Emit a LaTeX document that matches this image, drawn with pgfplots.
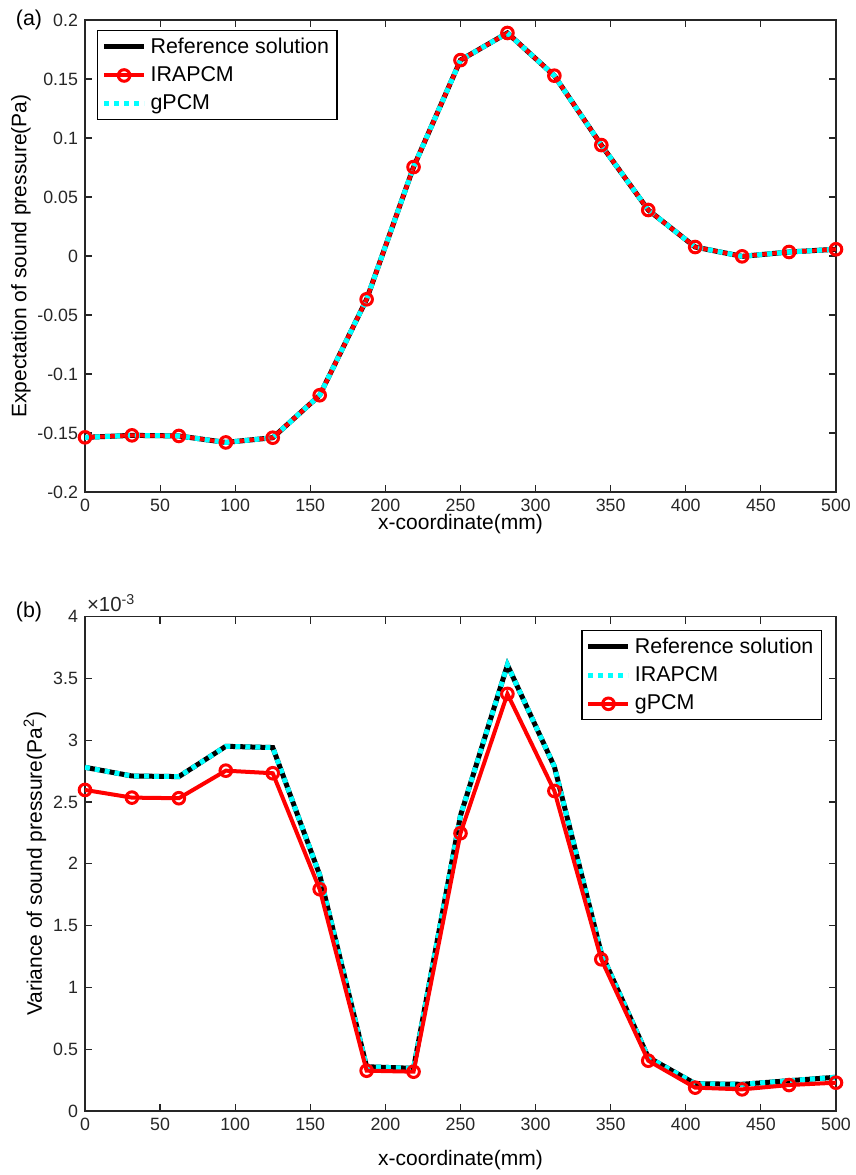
\documentclass[border=0pt]{standalone}
\usepackage{fontspec}
\setmainfont{Liberation Sans}
\usepackage{pgfplots}
\pgfplotsset{compat=1.18}
\definecolor{axgray}{RGB}{38,38,38}
\definecolor{mred}{RGB}{255,0,0}
\definecolor{mcyan}{RGB}{0,255,255}

\pgfplotstableread{
x y
0 -0.1537
31.25 -0.1520
62.5 -0.1525
93.75 -0.1580
125 -0.1540
156.25 -0.1180
187.5 -0.0367
218.75 0.0754
250 0.1660
281.25 0.1890
312.5 0.1528
343.75 0.0940
375 0.0390
406.25 0.0076
437.5 -0.0003
468.75 0.0034
500 0.0057
}\expdata

\pgfplotstableread{
x y
0 2.78
31.25 2.71
62.5 2.705
93.75 2.95
125 2.94
156.25 1.91
187.5 0.358
218.75 0.345
250 2.39
281.25 3.608
312.5 2.786
343.75 1.276
375 0.434
406.25 0.221
437.5 0.216
468.75 0.245
500 0.273
}\varref

\pgfplotstableread{
x y
0 2.597
31.25 2.535
62.5 2.53
93.75 2.753
125 2.732
156.25 1.794
187.5 0.326
218.75 0.318
250 2.247
281.25 3.374
312.5 2.589
343.75 1.227
375 0.407
406.25 0.189
437.5 0.175
468.75 0.21
500 0.229
}\vargpcm

\pgfplotsset{
  mstyle/.style={
    scale only axis, width=375.5pt,
    xmin=0, xmax=500, xtick={0,50,100,150,200,250,300,350,400,450,500},
    tick align=inside, major tick length=3.5pt,
    axis line style={axgray, line width=0.6pt},
    every tick/.style={axgray, line width=0.6pt},
    tick label style={font=\fontsize{8.9}{10}\selectfont, text=axgray},
    label style={font=\fontsize{10.5}{12}\selectfont, text=black},
    /pgf/number format/assume math mode=true,
    xlabel={x-coordinate(mm)},
    legend cell align=left,
    legend style={font=\fontsize{10.7}{12}\selectfont, draw=black, line width=0.6pt,
      inner xsep=2pt, inner ysep=1.5pt, row sep=1.2pt},
    legend image code/.code={\draw[mark repeat=2,mark phase=2,#1] plot coordinates {(0pt,0pt) (10pt,0pt) (20pt,0pt)};},
  },
  refline/.style={black, line width=2.5pt, no markers},
  redline/.style={mred, line width=2pt, mark=o, mark size=2.9pt, mark options={line width=1.5pt, solid}},
  cyanline/.style={mcyan, line width=2.5pt, dash pattern=on 2.5pt off 2.5pt, no markers},
}

\begin{document}
\begin{tikzpicture}
\useasboundingbox (0,0) rectangle (428pt,587.5pt);

\begin{axis}[mstyle,
  at={(42.5pt,341.5pt)}, anchor=south west, height=236pt,
  ymin=-0.2, ymax=0.2,
  ytick={-0.2,-0.15,-0.1,-0.05,0,0.05,0.1,0.15,0.2},
  yticklabels={-0.2,-0.15,-0.1,-0.05,0,0.05,0.1,0.15,0.2},
  ylabel={Expectation of sound pressure(Pa)},
  ylabel style={at={(axis description cs:-0.0852,0.5)}, anchor=center},
  xlabel style={at={(axis description cs:0.5,-0.068)}, anchor=center},
  legend style={at={(0,1)}, anchor=north west, xshift=6pt, yshift=-5pt},
]
\addplot[refline] table[x=x,y=y] {\expdata};
\addlegendentry{Reference solution}
\addplot[redline] table[x=x,y=y] {\expdata};
\addlegendentry{IRAPCM}
\addplot[cyanline] table[x=x,y=y] {\expdata};
\addlegendentry{gPCM}
\end{axis}

\begin{axis}[mstyle,
  at={(42.5pt,32pt)}, anchor=south west, height=247.25pt,
  ymin=0, ymax=4,
  ytick={0,0.5,1,1.5,2,2.5,3,3.5,4},
  yticklabels={0,0.5,1,1.5,2,2.5,3,3.5,4},
  ylabel={Variance of sound pressure(Pa\textsuperscript{2})},
  ylabel style={at={(axis description cs:-0.0666,0.5)}, anchor=center},
  xlabel style={at={(axis description cs:0.5,-0.099)}, anchor=center},
  legend style={at={(1,1)}, anchor=north east, xshift=-7pt, yshift=-6.75pt},
]
\addplot[refline] table[x=x,y=y] {\varref};
\addlegendentry{Reference solution}
\addplot[cyanline] table[x=x,y=y] {\varref};
\addlegendentry{IRAPCM}
\addplot[redline] table[x=x,y=y] {\vargpcm};
\addlegendentry{gPCM}
\end{axis}

\node[anchor=south west, inner sep=0pt, font=\fontsize{10.2}{12}\selectfont, text=axgray] at (43.3pt,281.5pt) {×10\textsuperscript{-3}};
\node[font=\fontsize{10.7}{12}\selectfont] at (14.5pt,577.5pt) {(a)};
\node[font=\fontsize{10.7}{12}\selectfont] at (14.5pt,281.5pt) {(b)};
\end{tikzpicture}
\end{document}
